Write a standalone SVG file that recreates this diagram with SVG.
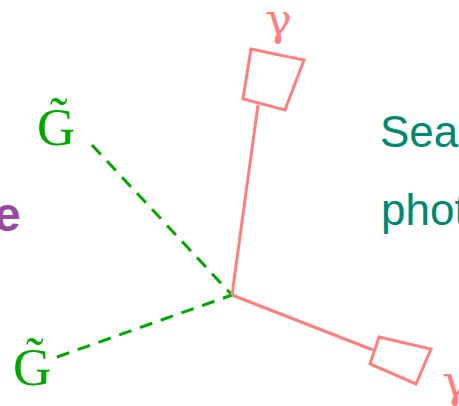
<svg xmlns="http://www.w3.org/2000/svg" width="459" height="406" viewBox="0 0 459 406">
<style>
.ph{fill:none;stroke:#ff7f7f;stroke-width:3;stroke-linejoin:miter}
.gl{fill:none;stroke:#00a800;stroke-width:3;stroke-dasharray:13 9}
.gt{font-family:"Liberation Serif",serif;font-size:53px;fill:#00a800}
.gam{font-family:"DejaVu Serif",serif;font-size:45px;fill:#ff7f7f}
.tl{font-family:"Liberation Sans",Arial,sans-serif;font-size:44px;fill:#00896f}
</style>
<rect width="459" height="406" fill="#fff"/>
<g id="connectors">
<line class="gl" x1="92" y1="145" x2="232" y2="295"/>
<line class="gl" x1="57" y1="357" x2="232" y2="295"/>
<line class="ph" x1="232" y1="295" x2="258" y2="105"/>
<line class="ph" x1="232" y1="295" x2="373" y2="350"/>
</g>
<g id="photon-top">
<polygon class="ph" points="251,49 304,60 285,110 243,99"/>
<text class="gam" x="265" y="35">γ</text>
</g>
<g id="photon-bottom">
<polygon class="ph" points="379,337 431,349 416,384 370,364"/>
<text class="gam" x="442" y="397">γ</text>
</g>
<g id="gluino-top">
<text class="gt" x="37" y="145">G̃</text>
</g>
<g id="gluino-bottom">
<text class="gt" x="13" y="385">G̃</text>
</g>
<g id="label-e">
<text x="-6" y="231" font-family="Liberation Sans,Arial,sans-serif" font-weight="bold" font-size="48" fill="#984a9c">e</text>
</g>
<g id="label-right">
<text class="tl" x="380" y="147">Sea</text>
<text class="tl" x="381" y="225">phot</text>
</g>
</svg>
